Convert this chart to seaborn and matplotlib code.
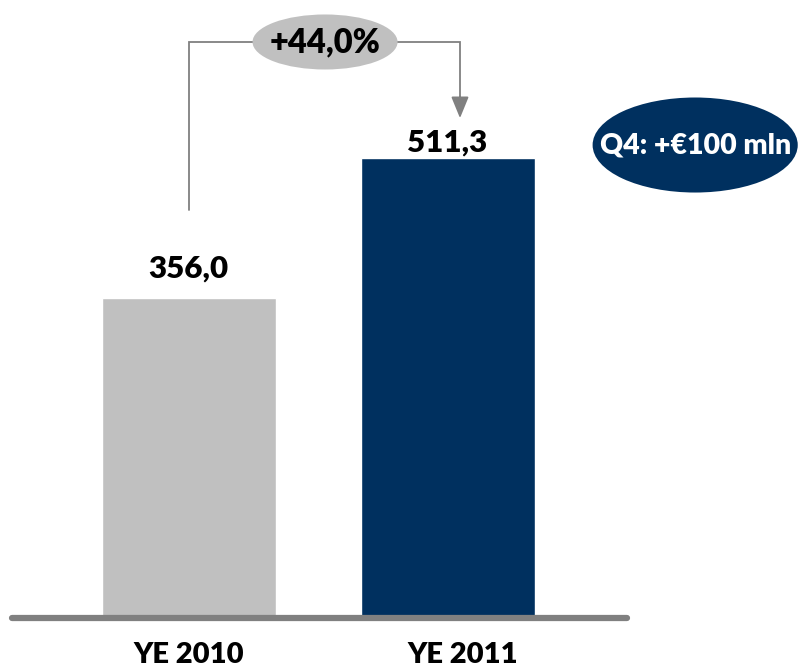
import matplotlib
matplotlib.use("Agg")
import matplotlib.pyplot as plt
import matplotlib.patches as mpatches
import matplotlib.transforms as mtransforms
import seaborn as sns
import pandas as pd

categories = ["YE 2010", "YE 2011"]
values = [356.0, 511.3]
bar_colors = ["#c0c0c0", "#00305f"]
growth_label = "+44,0%"
q4_label = "Q4: +€100 mln"

sns.set_theme(style="white")
plt.rcParams["font.family"] = ["Lato", "DejaVu Sans"]

df = pd.DataFrame({"period": categories, "value": values})

fig = plt.figure(figsize=(7.98, 6.72), dpi=100)
ax = fig.add_axes([0, 54 / 672, 1, 618 / 672])

sns.barplot(data=df, x="period", y="value", hue="period",
            palette=bar_colors, width=0.672, legend=False, ax=ax,
            saturation=1, zorder=2)

ax.set_xlim(-0.728, 2.353)
ax.set_ylim(0, 687.4)
for s in ax.spines.values():
    s.set_visible(False)
ax.set_yticks([])
ax.set_xlabel("")
ax.set_ylabel("")
ax.tick_params(axis="x", length=0, pad=17)
ax.set_xticks(range(len(categories)))
ax.set_xticklabels(categories, fontsize=21, fontweight="heavy", color="black")
# shift second tick label slightly right as in reference
lbls = ax.get_xticklabels()
lbls[1].set_transform(lbls[1].get_transform() +
                      mtransforms.ScaledTranslation(15 / 100, 0, fig.dpi_scale_trans))

# baseline
ax.axhline(0, xmin=12 / 798, xmax=627 / 798, color="#808080", lw=4.5, zorder=3,
           clip_on=False)

# value labels
pads = [11, 1]
for cont, v, p in zip(ax.containers, values, pads):
    ax.bar_label(cont, labels=[f"{v:.1f}".replace(".", ",")], padding=p,
                 fontsize=22.5, fontweight="heavy", color="black")

# bracket with arrow
y_top = 640.7
x_tip = 1.048
ax.plot([0, 0, x_tip, x_tip], [453.8, y_top, y_top, 575], color="#808080",
        lw=1.3, zorder=1, solid_joinstyle="miter")
ax.annotate("", xy=(x_tip, 556), xytext=(x_tip, 580),
            arrowprops=dict(arrowstyle="-|>,head_width=0.45,head_length=1.1",
                            color="#808080", lw=1.3, shrinkA=0, shrinkB=0))

# growth ellipse
ax.add_patch(mpatches.Ellipse((0.527, y_top), 0.56, 61.2, facecolor="#c0c0c0",
                              edgecolor="none", zorder=4))
ax.text(0.527, y_top, growth_label, ha="center", va="center", fontsize=23.5,
        fontweight="heavy", color="black", zorder=5)

# Q4 ellipse
ax.add_patch(mpatches.Ellipse((1.956, 526.1), 0.792, 105.7, facecolor="#00305f",
                              edgecolor="none", zorder=4))
ax.text(1.956, 526.1, q4_label, ha="center", va="center", fontsize=20.5,
        fontweight="heavy", color="white", zorder=5)

fig.savefig("out.png", dpi=100)
